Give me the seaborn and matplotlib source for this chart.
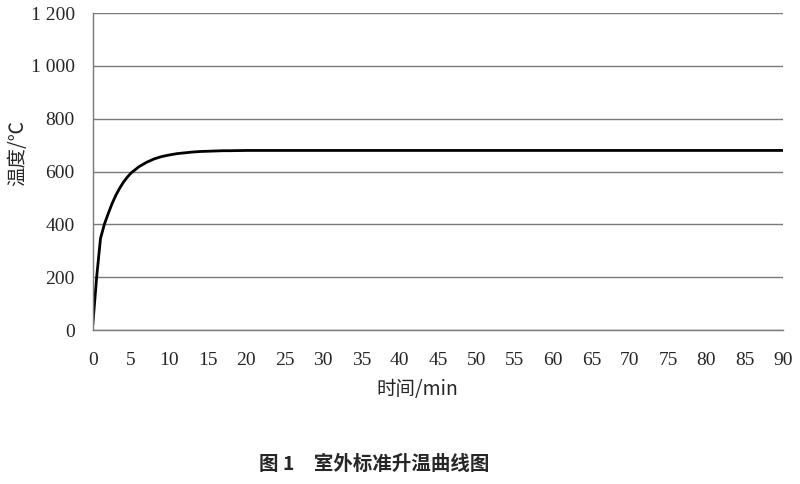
import numpy as np
import pandas as pd
import matplotlib
matplotlib.use('Agg')
import matplotlib.pyplot as plt
import seaborn as sns

# time (min) and temperature (°C)
minutes = [0, 0.5, 1, 1.5, 2, 2.5, 3, 3.5, 4, 4.5, 5, 6, 7, 8, 9, 10, 11, 12, 13, 14, 15, 16, 17, 18, 20, 25, 30, 40, 50, 60, 70, 80, 90]
temps = [20, 200, 346, 400, 440, 478, 510, 537, 560, 579, 595, 618, 635, 648, 657, 663, 668, 671, 674, 676, 677, 678, 679, 679, 680, 680, 680, 680, 680, 680, 680, 680, 680]

y_ticks = [0, 200, 400, 600, 800, 1000, 1200]
y_tick_labels = ['0', '200', '400', '600', '800', '1 000', '1 200']
x_ticks = list(range(0, 95, 5))

df = pd.DataFrame({'t': minutes, 'T': temps})

sns.set_theme(style='white')
plt.rcParams['font.family'] = ['Noto Sans CJK SC', 'DejaVu Sans']

fig = plt.figure(figsize=(8, 4.84), dpi=100)
ax = fig.add_axes([0.116, 0.318, 0.863, 0.655])

sns.lineplot(data=df, x='t', y='T', ax=ax, color='black', linewidth=2.0)

ax.set_xlim(0, 90)
ax.set_ylim(0, 1200)
ax.set_xticks(x_ticks)
ax.set_yticks(y_ticks)
ax.set_yticklabels(y_tick_labels)
serif = ['Liberation Serif', 'DejaVu Serif']
for lab in ax.get_xticklabels() + ax.get_yticklabels():
    lab.set_family(serif)
    lab.set_fontsize(14)

ax.grid(axis='y', color='#7a7a7a', linewidth=1.0)
ax.set_axisbelow(True)
for s in ['top', 'right']:
    ax.spines[s].set_visible(False)
for s in ['left', 'bottom']:
    ax.spines[s].set_color('#7a7a7a')
    ax.spines[s].set_linewidth(1.0)
ax.tick_params(axis='both', length=7, width=1.0, color='#7a7a7a', direction='out', pad=6)
ax.tick_params(axis='x', pad=9)

ax.set_xlabel('时间/min', fontsize=14, family=['Noto Sans CJK SC', 'Liberation Serif'])
ax.set_ylabel('温度/℃', fontsize=14, family=['Noto Sans CJK SC', 'DejaVu Sans'])
ax.xaxis.set_label_coords(0.47, -0.155)
ax.yaxis.set_label_coords(-0.094, 0.56)

fig.text(0.468, 0.04, '图 1\u3000室外标准升温曲线图', ha='center', va='center',
         fontsize=14, fontweight='bold', family=['Noto Sans CJK SC', 'DejaVu Sans'])

fig.savefig('out.png', dpi=100)
